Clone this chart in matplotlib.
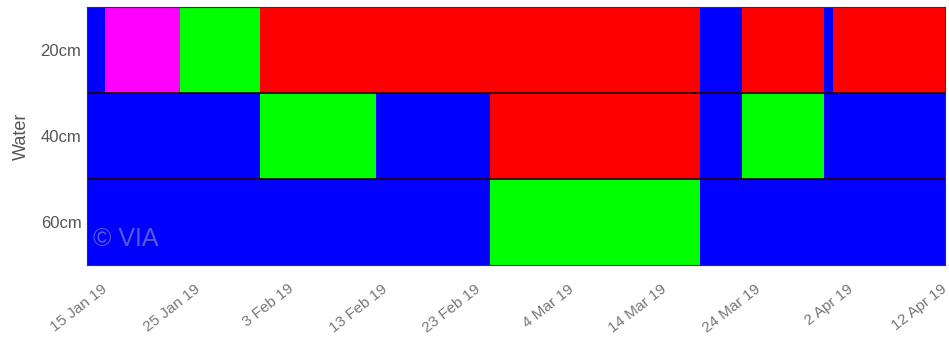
import numpy as np
import matplotlib.pyplot as plt

plt.rcParams['font.family'] = ['Liberation Sans', 'DejaVu Sans']

# depths (top to bottom) and segment edges in days after 15 Jan 2019
depths = ['20cm', '40cm', '60cm']
edges_20 = [-1.9, 0, 7.7, 16, 61.6, 66, 74.5, 75.4, 87]
colors_20 = ['#0000ff', '#ff00ff', '#00ff00', '#ff0000', '#0000ff', '#ff0000', '#0000ff', '#ff0000']
edges_40 = [-1.9, 16, 28, 39.9, 61.6, 66, 74.5, 87]
colors_40 = ['#0000ff', '#00ff00', '#0000ff', '#ff0000', '#0000ff', '#00ff00', '#0000ff']
edges_60 = [-1.9, 39.9, 61.6, 87]
colors_60 = ['#0000ff', '#00ff00', '#0000ff']

tick_days = np.linspace(0, 87, 10)
tick_labels = ['15 Jan 19', '25 Jan 19', '3 Feb 19', '13 Feb 19', '23 Feb 19',
               '4 Mar 19', '14 Mar 19', '24 Mar 19', '2 Apr 19', '12 Apr 19']

fig = plt.figure(figsize=(9.49, 3.47), dpi=100)
ax = fig.add_axes([0.0917, 0.2363, 0.9041, 0.7437])

rows = [(edges_20, colors_20), (edges_40, colors_40), (edges_60, colors_60)]
for i, (edges, cols) in enumerate(rows):
    e = np.array(edges)
    ax.barh(i, e[1:] - e[:-1], left=e[:-1], height=1, color=cols, edgecolor='none')

for y in [0.5, 1.5]:
    ax.axhline(y, color='#200000', lw=1.2)

ax.set_xlim(-1.9, 87)
ax.set_ylim(2.5, -0.5)
ax.set_yticks(range(3))
ax.set_yticklabels(depths, fontsize=12, color='#555555')
ax.set_xticks(tick_days)
ax.set_xticklabels(tick_labels, rotation=38, ha='right', va='center',
                   rotation_mode='anchor', fontsize=11, color='#777777')
ax.tick_params(axis='x', length=0, pad=16)
ax.tick_params(axis='y', length=0, pad=4)
ax.set_ylabel('Water', fontsize=13, color='#555555', labelpad=8)
for s in ax.spines.values():
    s.set_color('#333333')
    s.set_linewidth(0.8)

ax.text(0.007, 0.1, '\u00a9 VIA', transform=ax.transAxes, fontsize=18,
        color='#b0b0b0', alpha=0.5, va='center')

fig.savefig('out.png', dpi=100)
